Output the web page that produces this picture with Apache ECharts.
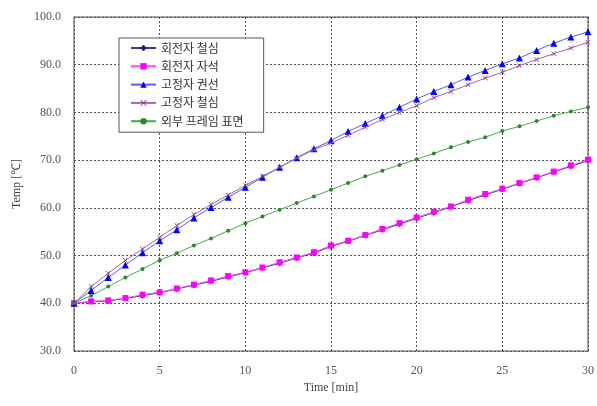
<!DOCTYPE html>
<html><head><meta charset="utf-8">
<script src="https://cdn.jsdelivr.net/npm/echarts@6/dist/echarts.min.js"></script>
<style>html,body{margin:0;padding:0;background:#fff}#c{width:597px;height:406px}</style>
</head><body><div id="c"></div>
<script>
const times = [0,1,2,3,4,5,6,7,8,9,10,11,12,13,14,15,16,17,18,19,20,21,22,23,24,25,26,27,28,29,30];
const seriesNames = ['회전자 철심','회전자 자석','고정자 권선','고정자 철심','외부 프레임 표면'];
const rotorCore = [40.0,40.3,40.5,41.0,41.6,42.2,43.0,43.8,44.6,45.5,46.4,47.4,48.4,49.5,50.5,51.9,53.0,54.2,55.4,56.6,57.8,59.0,60.2,61.5,62.7,63.9,65.1,66.3,67.5,68.7,69.9];
const rotorMagnet = [40.0,40.4,40.6,41.1,41.8,42.3,43.1,43.9,44.8,45.7,46.5,47.5,48.6,49.6,50.7,52.1,53.1,54.3,55.6,56.8,58.0,59.2,60.3,61.7,62.9,64.0,65.2,66.4,67.6,68.9,70.1];
const statorWinding = [40.0,42.7,45.4,48.0,50.6,53.1,55.4,57.9,60.1,62.2,64.3,66.4,68.5,70.5,72.4,74.1,76.0,77.7,79.3,81.1,82.8,84.4,85.8,87.4,88.8,90.2,91.4,93.0,94.5,95.8,96.9];
const statorCore = [40.0,43.5,46.3,49.0,51.4,53.8,56.3,58.6,60.7,62.7,64.7,66.6,68.5,70.4,72.2,73.6,75.2,76.9,78.5,80.0,81.4,83.1,84.4,85.8,87.2,88.4,89.8,91.1,92.3,93.5,94.7];
const frameSurface = [40.0,41.6,43.5,45.4,47.2,49.0,50.5,52.1,53.6,55.2,56.8,58.2,59.6,61.0,62.4,63.8,65.2,66.6,67.8,69.0,70.2,71.4,72.7,73.8,74.8,76.1,77.1,78.2,79.3,80.2,81.1];
const yTicks = [30,40,50,60,70,80,90,100];
const xTicks = [0,5,10,15,20,25,30];

const pairs = v => times.map((t,i)=>[t,v[i]]);
const xMark = 'path://M1,0L5,4L9,0L10,1L6,5L10,9L9,10L5,6L1,10L0,9L4,5L0,1Z';
const styles = [
  {data: rotorCore, color:'#1c1c8a', line:'#3a3a9a', symbol:'diamond', size:6},
  {data: rotorMagnet, color:'#ff00ff', line:'#ff44ff', symbol:'rect', size:6},
  {data: statorWinding, color:'#0000ff', line:'#5a5aff', symbol:'triangle', size:7},
  {data: statorCore, color:'#8a3a8a', line:'#a06aa8', symbol:xMark, size:5},
  {data: frameSurface, color:'#2a8a2a', line:'#4aaa4a', symbol:'circle', size:4}
];
const chart = echarts.init(document.getElementById('c'), null, {renderer:'canvas'});
const axisFont = {fontFamily:'Liberation Serif', fontSize:12, color:'#555'};
chart.setOption({
  animation:false,
  backgroundColor:'#fff',
  grid:{left:74, right:7, top:17, bottom:55, show:true, borderColor:'#888', borderWidth:1.5, backgroundColor:'transparent'},
  legend:{
    orient:'vertical', left:119, top:38,
    backgroundColor:'#fff', borderColor:'#555', borderWidth:1,
    padding:[4,20,5,11], itemGap:6.3, itemWidth:25, itemHeight:8,
    textStyle:{fontFamily:'Noto Sans CJK KR', fontSize:12, color:'#333'},
    data: seriesNames
  },
  xAxis:{
    type:'value', min:0, max:30, interval:5,
    name:'Time [min]', nameLocation:'middle', nameGap:31,
    nameTextStyle:{fontFamily:'Liberation Serif', fontSize:12, color:'#444'},
    axisLine:{show:false}, axisTick:{show:false},
    axisLabel:Object.assign({margin:14, formatter:v=>xTicks.includes(v)?String(v):''}, axisFont),
    splitLine:{show:true, lineStyle:{color:'#555', type:[2,2], width:1}}
  },
  yAxis:{
    type:'value', min:30, max:100, interval:10,
    name:'Temp [℃]', nameLocation:'middle', nameGap:50, nameRotate:90,
    nameTextStyle:{fontFamily:'Liberation Serif', fontSize:12, color:'#444'},
    axisLine:{show:false}, axisTick:{show:false},
    axisLabel:Object.assign({margin:13, formatter:v=>yTicks.includes(v)?v.toFixed(1):''}, axisFont),
    splitLine:{show:true, lineStyle:{color:'#555', type:[2,2], width:1}}
  },
  series: styles.map((s,i)=>({
    name: seriesNames[i], type:'line', data: pairs(s.data),
    symbol: s.symbol, symbolSize: s.size, showSymbol:true,
    itemStyle:{color:s.color}, lineStyle:{color:s.line, width:1},
    z: 2+i
  }))
});
</script></body></html>
